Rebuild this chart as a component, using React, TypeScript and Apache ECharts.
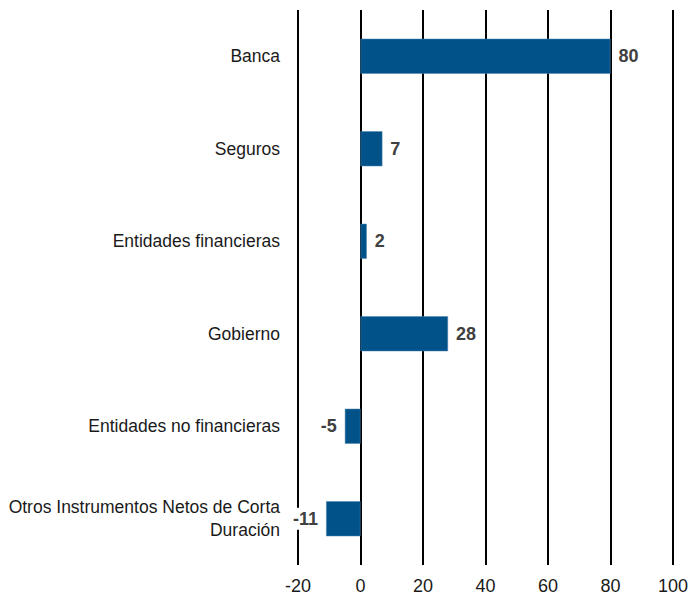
import React, { useEffect, useRef } from "react";
import * as echarts from "echarts";

const categories = [
  "Banca",
  "Seguros",
  "Entidades financieras",
  "Gobierno",
  "Entidades no financieras",
  "Otros Instrumentos Netos de Corta\nDuración",
];
const values = [80, 7, 2, 28, -5, -11];
const xMin = -20;
const xMax = 100;
const xInterval = 20;

const FONT = "'Liberation Sans Narrow', 'Arial Narrow', 'Liberation Sans', sans-serif";

export default function App() {
  const ref = useRef<HTMLDivElement>(null);
  useEffect(() => {
    if (!ref.current) return;
    const chart = echarts.init(ref.current, undefined, { renderer: "svg" });
    chart.setOption({
      animation: false,
      grid: { left: 298, right: 18, top: 10, bottom: 37, containLabel: false },
      xAxis: {
        type: "value",
        min: xMin,
        max: xMax,
        interval: xInterval,
        axisLine: { show: false },
        axisTick: { show: false },
        axisLabel: { color: "#1a1a1a", fontSize: 18, fontFamily: FONT, margin: 12 },
        splitLine: { show: true, lineStyle: { color: "#000", width: 2 } },
      },
      yAxis: {
        type: "category",
        data: categories,
        inverse: true,
        axisLine: { show: false },
        axisTick: { show: false },
        axisLabel: {
          color: "#1a1a1a",
          fontSize: 17.5,
          fontFamily: FONT,
          margin: 18,
          align: "right",
          lineHeight: 23,
        },
      },
      series: [
        {
          type: "bar",
          barWidth: 35,
          data: values.map((v) => ({
            value: v,
            label: {
              position: v < 0 ? "left" : "right",
              backgroundColor: v < 0 ? "#fff" : "transparent",
            },
          })),
          itemStyle: { color: "#005288", borderColor: "#4f86b0", borderWidth: 0.5 },
          label: {
            show: true,
            color: "#404040",
            fontSize: 18,
            fontWeight: "bold",
            fontFamily: FONT,
            distance: 6,
            padding: [2, 2],
          },
        },
      ],
    });
    return () => chart.dispose();
  }, []);
  return <div ref={ref} style={{ width: 691, height: 602, position: "absolute", left: 0, top: 0 }} />;
}
